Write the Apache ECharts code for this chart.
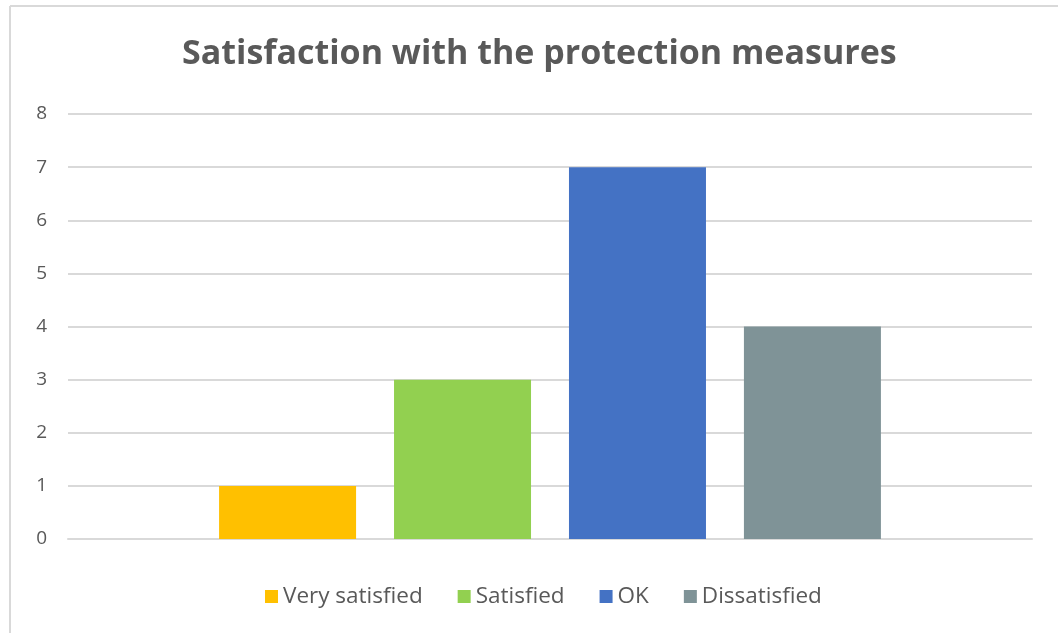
<!DOCTYPE html>
<html><head><meta charset="utf-8">
<script src="https://cdn.jsdelivr.net/npm/echarts@6/dist/echarts.min.js"></script>
<style>html,body{margin:0;padding:0;background:#fff}#c{width:1058px;height:633px}</style>
</head><body><div id="c"></div>
<script>
const categories = [''];
const seriesNames = ['Very satisfied', 'Satisfied', 'OK', 'Dissatisfied'];
const seriesValues = [[1], [3], [7], [4]];
const seriesColors = ['#FFC000', '#92D050', '#4472C4', '#7F9397'];
const yTicks = [0, 1, 2, 3, 4, 5, 6, 7, 8];

const chart = echarts.init(document.getElementById('c'), null, {renderer: 'canvas'});
const font = '"Open Sans", sans-serif';
chart.setOption({
  animation: false,
  title: {
    text: 'Satisfaction with the protection measures',
    left: 177, top: 32,
    textStyle: {fontFamily: font, fontWeight: 'bold', fontSize: 34, color: '#595959'}
  },
  legend: {
    top: 580, left: 260, itemWidth: 13, itemHeight: 13, itemGap: 35,
    icon: 'rect',
    textStyle: {fontFamily: font, fontSize: 22.5, color: '#595959'},
    data: seriesNames
  },
  grid: {left: 68, right: 26, top: 114, bottom: 94, containLabel: false},
  xAxis: {
    type: 'category', data: categories,
    axisLine: {show: true, lineStyle: {color: '#D9D9D9', width: 2}},
    axisTick: {show: false}, axisLabel: {show: false}
  },
  yAxis: {
    type: 'value', min: yTicks[0], max: yTicks[yTicks.length - 1], interval: 1,
    axisLine: {show: false}, axisTick: {show: false},
    axisLabel: {fontFamily: font, fontSize: 19, color: '#595959', margin: 21},
    splitLine: {lineStyle: {color: '#D9D9D9', width: 2}}
  },
  series: seriesNames.map((n, i) => ({
    name: n, type: 'bar', data: seriesValues[i], barWidth: 137, barGap: '27.7%',
    itemStyle: {color: seriesColors[i]}
  })),
  graphic: [
    {type: 'line', shape: {x1: 10, y1: 6, x2: 1058, y2: 6}, style: {stroke: '#D9D9D9', lineWidth: 2}},
    {type: 'line', shape: {x1: 10, y1: 6, x2: 10, y2: 633}, style: {stroke: '#D9D9D9', lineWidth: 2}}
  ]
});
</script></body></html>
